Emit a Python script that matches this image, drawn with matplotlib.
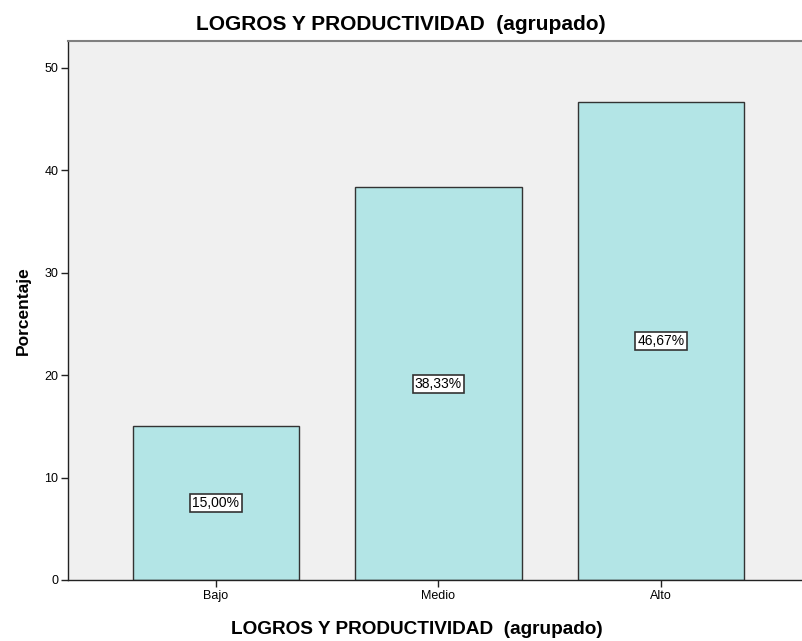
import matplotlib
matplotlib.use("Agg")
import matplotlib.pyplot as plt

categories = ["Bajo", "Medio", "Alto"]
percentages = [15.00, 38.33, 46.67]
yticks = [0, 10, 20, 30, 40, 50]

plt.rcParams['font.family'] = ['Liberation Sans', 'DejaVu Sans']

fig = plt.figure(figsize=(8.02, 6.41), dpi=100)
ax = fig.add_axes([68 / 802, 61 / 641, 734 / 802, 539 / 641])
ax.set_facecolor('#f0f0f0')

x = range(len(categories))
ax.bar(x, percentages, width=0.75, color='#b3e5e6', edgecolor='#333333', linewidth=1.0, zorder=2)

for xi, v in zip(x, percentages):
    ax.text(xi, v / 2, f"{v:.2f}".replace('.', ',') + "%", ha='center', va='center', fontsize=10,
            bbox=dict(boxstyle='square,pad=0.15', facecolor='white', edgecolor='#333333', linewidth=1.2), zorder=3)

ax.set_xlim(-0.665, 2.634)
ax.set_ylim(0, 52.6)
ax.set_xticks(list(x))
ax.set_xticklabels(categories, fontsize=9)
ax.set_yticks(yticks)
ax.set_yticklabels([str(t) for t in yticks], fontsize=9)
ax.tick_params(axis='both', length=5, width=1, color='#222222', pad=2)

for side in ['left', 'bottom']:
    ax.spines[side].set_color('#222222')
    ax.spines[side].set_linewidth(1.0)
ax.spines['top'].set_color('#808080')
ax.spines['top'].set_linewidth(1.5)
ax.spines['right'].set_visible(False)

fig.suptitle("LOGROS Y PRODUCTIVIDAD  (agrupado)", x=0.5, y=0.977, va='top', fontsize=15, fontweight='bold')
ax.set_xlabel("LOGROS Y PRODUCTIVIDAD  (agrupado)", fontsize=13.7, fontweight='bold')
ax.xaxis.set_label_coords(0.475, -0.076)
ax.xaxis.label.set_va('top')
ax.set_ylabel("Porcentaje", fontsize=12.5, fontweight='bold', labelpad=10)

fig.savefig("out.png", dpi=100)
